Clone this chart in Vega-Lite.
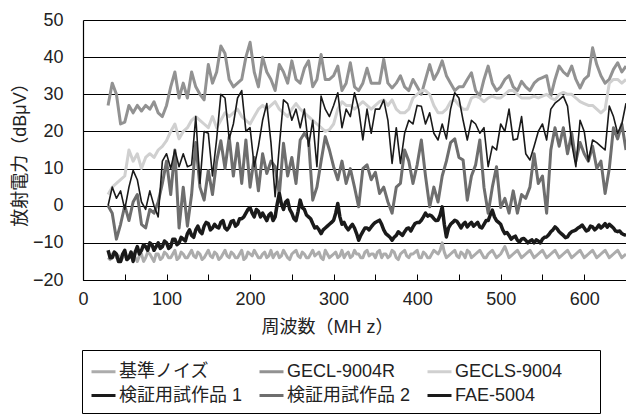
{
  "$schema": "https://vega.github.io/schema/vega-lite/v6.json",
  "width": 543,
  "height": 260,
  "autosize": {"type": "none"},
  "padding": {"left": 83, "top": 20, "right": 0, "bottom": 136},
  "background": "white",
  "config": {
    "view": {"stroke": null},
    "font": "Liberation Sans, Noto Sans CJK JP",
    "axis": {
      "labelFont": "Liberation Sans, Noto Sans CJK JP",
      "titleFont": "Liberation Sans, Noto Sans CJK JP",
      "labelColor": "#222222",
      "titleColor": "#222222",
      "labelFontSize": 18,
      "titleFontSize": 18,
      "titleFontWeight": "normal",
      "domainColor": "#000000",
      "domainWidth": 1.2,
      "tickColor": "#000000"
    }
  },
  "data": {
    "values": [
      {"f":30,"基準ノイズ":-14,"GECL-9004R":27,"GECLS-9004":3,"検証用試作品 1":0,"検証用試作品 2":0,"FAE-5004":-12},
      {"f":35,"基準ノイズ":-13,"GECL-9004R":33,"GECLS-9004":5,"検証用試作品 1":5,"検証用試作品 2":-2,"FAE-5004":-14},
      {"f":40,"基準ノイズ":-14,"GECL-9004R":30,"GECLS-9004":6,"検証用試作品 1":2,"検証用試作品 2":-9,"FAE-5004":-13},
      {"f":45,"基準ノイズ":-15,"GECL-9004R":22,"GECLS-9004":7,"検証用試作品 1":4,"検証用試作品 2":-5,"FAE-5004":-15},
      {"f":50,"基準ノイズ":-13,"GECL-9004R":22.5,"GECLS-9004":8,"検証用試作品 1":-1,"検証用試作品 2":0,"FAE-5004":-12},
      {"f":55,"基準ノイズ":-14,"GECL-9004R":27,"GECLS-9004":15,"検証用試作品 1":5,"検証用試作品 2":-4,"FAE-5004":-14},
      {"f":60,"基準ノイズ":-13,"GECL-9004R":25,"GECLS-9004":12,"検証用試作品 1":9.5,"検証用試作品 2":1,"FAE-5004":-15},
      {"f":65,"基準ノイズ":-15,"GECL-9004R":27,"GECLS-9004":14,"検証用試作品 1":7,"検証用試作品 2":3,"FAE-5004":-11},
      {"f":70,"基準ノイズ":-13,"GECL-9004R":25.5,"GECLS-9004":10,"検証用試作品 1":1,"検証用試作品 2":-5,"FAE-5004":-12},
      {"f":75,"基準ノイズ":-14,"GECL-9004R":27,"GECLS-9004":13,"検証用試作品 1":-1,"検証用試作品 2":-6,"FAE-5004":-11},
      {"f":80,"基準ノイズ":-13,"GECL-9004R":26,"GECLS-9004":14,"検証用試作品 1":4,"検証用試作品 2":-1,"FAE-5004":-10},
      {"f":85,"基準ノイズ":-15,"GECL-9004R":28,"GECLS-9004":13,"検証用試作品 1":0,"検証用試作品 2":-2,"FAE-5004":-12},
      {"f":90,"基準ノイズ":-13,"GECL-9004R":25,"GECLS-9004":15,"検証用試作品 1":-3,"検証用試作品 2":1,"FAE-5004":-10},
      {"f":95,"基準ノイズ":-14,"GECL-9004R":24,"GECLS-9004":16,"検証用試作品 1":12,"検証用試作品 2":6,"FAE-5004":-11},
      {"f":100,"基準ノイズ":-13,"GECL-9004R":27,"GECLS-9004":17.5,"検証用試作品 1":14,"検証用試作品 2":12,"FAE-5004":-10},
      {"f":105,"基準ノイズ":-14,"GECL-9004R":32,"GECLS-9004":20,"検証用試作品 1":10,"検証用試作品 2":3,"FAE-5004":-11},
      {"f":110,"基準ノイズ":-12,"GECL-9004R":36,"GECLS-9004":22,"検証用試作品 1":15,"検証用試作品 2":15,"FAE-5004":-9},
      {"f":115,"基準ノイズ":-14,"GECL-9004R":29,"GECLS-9004":18,"検証用試作品 1":10.5,"検証用試作品 2":-6,"FAE-5004":-10},
      {"f":120,"基準ノイズ":-13,"GECL-9004R":33,"GECLS-9004":20,"検証用試作品 1":14,"検証用試作品 2":5,"FAE-5004":-9},
      {"f":125,"基準ノイズ":-14,"GECL-9004R":29,"GECLS-9004":21,"検証用試作品 1":10.5,"検証用試作品 2":-5.5,"FAE-5004":-7.5},
      {"f":130,"基準ノイズ":-12,"GECL-9004R":36,"GECLS-9004":23,"検証用試作品 1":11,"検証用試作品 2":3,"FAE-5004":-8},
      {"f":135,"基準ノイズ":-14,"GECL-9004R":32,"GECLS-9004":24,"検証用試作品 1":24,"検証用試作品 2":17,"FAE-5004":-6.5},
      {"f":140,"基準ノイズ":-13,"GECL-9004R":30,"GECLS-9004":23,"検証用試作品 1":6,"検証用試作品 2":5,"FAE-5004":-7},
      {"f":145,"基準ノイズ":-14,"GECL-9004R":28.5,"GECLS-9004":22,"検証用試作品 1":20,"検証用試作品 2":1.5,"FAE-5004":-5.5},
      {"f":150,"基準ノイズ":-12,"GECL-9004R":38,"GECLS-9004":21,"検証用試作品 1":19.5,"検証用試作品 2":9.5,"FAE-5004":-4.8},
      {"f":155,"基準ノイズ":-14,"GECL-9004R":33,"GECLS-9004":24,"検証用試作品 1":8,"検証用試作品 2":3,"FAE-5004":-6},
      {"f":160,"基準ノイズ":-13,"GECL-9004R":36,"GECLS-9004":21,"検証用試作品 1":18,"検証用試作品 2":12,"FAE-5004":-5.7},
      {"f":165,"基準ノイズ":-14,"GECL-9004R":43,"GECLS-9004":23,"検証用試作品 1":30,"検証用試作品 2":17.5,"FAE-5004":-4.5},
      {"f":170,"基準ノイズ":-12,"GECL-9004R":41,"GECLS-9004":25,"検証用試作品 1":29,"検証用試作品 2":10,"FAE-5004":-6},
      {"f":175,"基準ノイズ":-14,"GECL-9004R":34,"GECLS-9004":24,"検証用試作品 1":18,"検証用試作品 2":18.5,"FAE-5004":-5.7},
      {"f":180,"基準ノイズ":-13,"GECL-9004R":32,"GECLS-9004":25,"検証用試作品 1":22,"検証用試作品 2":8,"FAE-5004":-4},
      {"f":185,"基準ノイズ":-14,"GECL-9004R":33,"GECLS-9004":26,"検証用試作品 1":29,"検証用試作品 2":16.8,"FAE-5004":-5},
      {"f":190,"基準ノイズ":-12,"GECL-9004R":34,"GECLS-9004":24,"検証用試作品 1":31,"検証用試作品 2":6,"FAE-5004":-3.5},
      {"f":195,"基準ノイズ":-14,"GECL-9004R":40,"GECLS-9004":23,"検証用試作品 1":20,"検証用試作品 2":17.7,"FAE-5004":-2},
      {"f":200,"基準ノイズ":-13,"GECL-9004R":44,"GECLS-9004":22,"検証用試作品 1":21,"検証用試作品 2":5,"FAE-5004":-0.5},
      {"f":205,"基準ノイズ":-12,"GECL-9004R":36,"GECLS-9004":24,"検証用試作品 1":10.5,"検証用試作品 2":13,"FAE-5004":-3},
      {"f":210,"基準ノイズ":-14,"GECL-9004R":32,"GECLS-9004":26,"検証用試作品 1":16,"検証用試作品 2":4,"FAE-5004":-1.5},
      {"f":215,"基準ノイズ":-13,"GECL-9004R":40,"GECLS-9004":27,"検証用試作品 1":23,"検証用試作品 2":14,"FAE-5004":-2},
      {"f":220,"基準ノイズ":-14,"GECL-9004R":36,"GECLS-9004":26,"検証用試作品 1":27.5,"検証用試作品 2":8.7,"FAE-5004":-4},
      {"f":225,"基準ノイズ":-12,"GECL-9004R":34,"GECLS-9004":27,"検証用試作品 1":17,"検証用試作品 2":12,"FAE-5004":-2},
      {"f":230,"基準ノイズ":-13,"GECL-9004R":31,"GECLS-9004":28,"検証用試作品 1":2.4,"検証用試作品 2":10.5,"FAE-5004":-3},
      {"f":235,"基準ノイズ":-14,"GECL-9004R":38,"GECLS-9004":26,"検証用試作品 1":16,"検証用試作品 2":3,"FAE-5004":3.3},
      {"f":240,"基準ノイズ":-12,"GECL-9004R":36,"GECLS-9004":25,"検証用試作品 1":28.5,"検証用試作品 2":16.8,"FAE-5004":-1},
      {"f":245,"基準ノイズ":-14,"GECL-9004R":33,"GECLS-9004":24,"検証用試作品 1":27.5,"検証用試作品 2":8,"FAE-5004":1.5},
      {"f":250,"基準ノイズ":-13,"GECL-9004R":39,"GECLS-9004":26,"検証用試作品 1":23,"検証用試作品 2":13,"FAE-5004":-2},
      {"f":255,"基準ノイズ":-12,"GECL-9004R":34,"GECLS-9004":27.5,"検証用試作品 1":26,"検証用試作品 2":6,"FAE-5004":-4},
      {"f":260,"基準ノイズ":-14,"GECL-9004R":33,"GECLS-9004":26,"検証用試作品 1":21,"検証用試作品 2":17.7,"FAE-5004":1.5},
      {"f":265,"基準ノイズ":-13,"GECL-9004R":37,"GECLS-9004":25,"検証用試作品 1":26,"検証用試作品 2":19.5,"FAE-5004":-1},
      {"f":270,"基準ノイズ":-14,"GECL-9004R":39,"GECLS-9004":24,"検証用試作品 1":16,"検証用試作品 2":17.7,"FAE-5004":-3},
      {"f":275,"基準ノイズ":-12,"GECL-9004R":32,"GECLS-9004":23,"検証用試作品 1":23,"検証用試作品 2":1.5,"FAE-5004":-4.8},
      {"f":280,"基準ノイズ":-13,"GECL-9004R":34,"GECLS-9004":22,"検証用試作品 1":10.5,"検証用試作品 2":5,"FAE-5004":-5.7},
      {"f":285,"基準ノイズ":-14,"GECL-9004R":40.7,"GECLS-9004":21,"検証用試作品 1":29.5,"検証用試作品 2":12,"FAE-5004":-7.5},
      {"f":290,"基準ノイズ":-12,"GECL-9004R":34,"GECLS-9004":20,"検証用試作品 1":26,"検証用試作品 2":18.6,"FAE-5004":-6},
      {"f":295,"基準ノイズ":-14,"GECL-9004R":34,"GECLS-9004":20.5,"検証用試作品 1":24,"検証用試作品 2":15,"FAE-5004":-5},
      {"f":300,"基準ノイズ":-13,"GECL-9004R":35,"GECLS-9004":22,"検証用試作品 1":27,"検証用試作品 2":10.5,"FAE-5004":-3.9},
      {"f":305,"基準ノイズ":-14,"GECL-9004R":37.6,"GECLS-9004":26,"検証用試作品 1":30.4,"検証用試作品 2":7,"FAE-5004":0.6},
      {"f":310,"基準ノイズ":-12,"GECL-9004R":31,"GECLS-9004":28,"検証用試作品 1":21,"検証用試作品 2":12,"FAE-5004":-5},
      {"f":315,"基準ノイズ":-13,"GECL-9004R":33,"GECLS-9004":27,"検証用試作品 1":26,"検証用試作品 2":6,"FAE-5004":-5.7},
      {"f":320,"基準ノイズ":-14,"GECL-9004R":38.5,"GECLS-9004":27,"検証用試作品 1":24,"検証用試作品 2":10,"FAE-5004":-5.7},
      {"f":325,"基準ノイズ":-12,"GECL-9004R":32,"GECLS-9004":26,"検証用試作品 1":30.4,"検証用試作品 2":5,"FAE-5004":-6},
      {"f":330,"基準ノイズ":-13,"GECL-9004R":31,"GECLS-9004":27,"検証用試作品 1":26,"検証用試作品 2":-0.3,"FAE-5004":-9.3},
      {"f":335,"基準ノイズ":-14,"GECL-9004R":33,"GECLS-9004":28,"検証用試作品 1":17.7,"検証用試作品 2":10,"FAE-5004":-7},
      {"f":340,"基準ノイズ":-12,"GECL-9004R":37,"GECLS-9004":27,"検証用試作品 1":26,"検証用試作品 2":11,"FAE-5004":-6},
      {"f":345,"基準ノイズ":-13,"GECL-9004R":33,"GECLS-9004":26,"検証用試作品 1":19.5,"検証用試作品 2":7,"FAE-5004":-5.7},
      {"f":350,"基準ノイズ":-14,"GECL-9004R":33,"GECLS-9004":27,"検証用試作品 1":26,"検証用試作品 2":9,"FAE-5004":-4.5},
      {"f":355,"基準ノイズ":-12,"GECL-9004R":33,"GECLS-9004":28,"検証用試作品 1":26,"検証用試作品 2":3.3,"FAE-5004":-3.9},
      {"f":360,"基準ノイズ":-13,"GECL-9004R":39.4,"GECLS-9004":28.5,"検証用試作品 1":28.5,"検証用試作品 2":5,"FAE-5004":-6.5},
      {"f":365,"基準ノイズ":-14,"GECL-9004R":33,"GECLS-9004":27,"検証用試作品 1":23,"検証用試作品 2":1,"FAE-5004":-8},
      {"f":370,"基準ノイズ":-12,"GECL-9004R":31.7,"GECLS-9004":28.5,"検証用試作品 1":11.4,"検証用試作品 2":-2,"FAE-5004":-9.3},
      {"f":375,"基準ノイズ":-14,"GECL-9004R":33,"GECLS-9004":26,"検証用試作品 1":21,"検証用試作品 2":5,"FAE-5004":-8},
      {"f":380,"基準ノイズ":-13,"GECL-9004R":35,"GECLS-9004":25,"検証用試作品 1":11.4,"検証用試作品 2":6,"FAE-5004":-7.5},
      {"f":385,"基準ノイズ":-12,"GECL-9004R":32,"GECLS-9004":25,"検証用試作品 1":19.5,"検証用試作品 2":15,"FAE-5004":-7},
      {"f":390,"基準ノイズ":-14,"GECL-9004R":31,"GECLS-9004":26,"検証用試作品 1":23,"検証用試作品 2":12,"FAE-5004":-6},
      {"f":395,"基準ノイズ":-13,"GECL-9004R":34,"GECLS-9004":29,"検証用試作品 1":22,"検証用試作品 2":6,"FAE-5004":-5.7},
      {"f":400,"基準ノイズ":-12,"GECL-9004R":32,"GECLS-9004":30,"検証用試作品 1":27,"検証用試作品 2":11,"FAE-5004":-4.5},
      {"f":405,"基準ノイズ":-14,"GECL-9004R":30,"GECLS-9004":31,"検証用試作品 1":26.8,"検証用試作品 2":17.7,"FAE-5004":-3.9},
      {"f":410,"基準ノイズ":-13,"GECL-9004R":34,"GECLS-9004":31,"検証用試作品 1":22,"検証用試作品 2":8,"FAE-5004":-2},
      {"f":415,"基準ノイズ":-14,"GECL-9004R":38,"GECLS-9004":30,"検証用試作品 1":25,"検証用試作品 2":-0.3,"FAE-5004":-2.5},
      {"f":420,"基準ノイズ":-12,"GECL-9004R":34,"GECLS-9004":27,"検証用試作品 1":19.5,"検証用試作品 2":5,"FAE-5004":-3.5},
      {"f":425,"基準ノイズ":-13,"GECL-9004R":36,"GECLS-9004":25,"検証用試作品 1":17.7,"検証用試作品 2":1,"FAE-5004":-3.9},
      {"f":430,"基準ノイズ":-10,"GECL-9004R":39,"GECLS-9004":25,"検証用試作品 1":22,"検証用試作品 2":8,"FAE-5004":-0.3},
      {"f":435,"基準ノイズ":-14,"GECL-9004R":35,"GECLS-9004":26,"検証用試作品 1":18,"検証用試作品 2":12,"FAE-5004":-8.4},
      {"f":440,"基準ノイズ":-13,"GECL-9004R":33,"GECLS-9004":28,"検証用試作品 1":26,"検証用試作品 2":17,"FAE-5004":-5},
      {"f":445,"基準ノイズ":-12,"GECL-9004R":31,"GECLS-9004":28.5,"検証用試作品 1":30.4,"検証用試作品 2":18,"FAE-5004":-3.9},
      {"f":450,"基準ノイズ":-14,"GECL-9004R":32,"GECLS-9004":27,"検証用試作品 1":29,"検証用試作品 2":13,"FAE-5004":-5},
      {"f":455,"基準ノイズ":-13,"GECL-9004R":32,"GECLS-9004":26,"検証用試作品 1":23,"検証用試作品 2":12.3,"FAE-5004":-5},
      {"f":460,"基準ノイズ":-12,"GECL-9004R":34,"GECLS-9004":26,"検証用試作品 1":17.7,"検証用試作品 2":1.5,"FAE-5004":-5.7},
      {"f":465,"基準ノイズ":-14,"GECL-9004R":35.8,"GECLS-9004":29,"検証用試作品 1":23,"検証用試作品 2":8,"FAE-5004":-4.5},
      {"f":470,"基準ノイズ":-13,"GECL-9004R":31,"GECLS-9004":29.5,"検証用試作品 1":22,"検証用試作品 2":11,"FAE-5004":-5},
      {"f":475,"基準ノイズ":-12,"GECL-9004R":29.5,"GECLS-9004":29,"検証用試作品 1":19.5,"検証用試作品 2":17.7,"FAE-5004":-5.7},
      {"f":480,"基準ノイズ":-14,"GECL-9004R":34,"GECLS-9004":28,"検証用試作品 1":21,"検証用試作品 2":5,"FAE-5004":-5},
      {"f":485,"基準ノイズ":-13,"GECL-9004R":37.6,"GECLS-9004":29,"検証用試作品 1":10.5,"検証用試作品 2":-2,"FAE-5004":-4},
      {"f":490,"基準ノイズ":-12,"GECL-9004R":33,"GECLS-9004":29.5,"検証用試作品 1":16,"検証用試作品 2":5,"FAE-5004":-1.2},
      {"f":495,"基準ノイズ":-14,"GECL-9004R":31,"GECLS-9004":29,"検証用試作品 1":15,"検証用試作品 2":10.5,"FAE-5004":-4},
      {"f":500,"基準ノイズ":-13,"GECL-9004R":32,"GECLS-9004":29,"検証用試作品 1":22,"検証用試作品 2":-0.5,"FAE-5004":-5},
      {"f":505,"基準ノイズ":-11,"GECL-9004R":34,"GECLS-9004":30,"検証用試作品 1":20,"検証用試作品 2":2,"FAE-5004":-7.5},
      {"f":510,"基準ノイズ":-14,"GECL-9004R":35,"GECLS-9004":31,"検証用試作品 1":26,"検証用試作品 2":-2,"FAE-5004":-8},
      {"f":515,"基準ノイズ":-13,"GECL-9004R":32,"GECLS-9004":31,"検証用試作品 1":17.7,"検証用試作品 2":4,"FAE-5004":-8.5},
      {"f":520,"基準ノイズ":-12,"GECL-9004R":31,"GECLS-9004":30,"検証用試作品 1":18,"検証用試作品 2":-2,"FAE-5004":-9.3},
      {"f":525,"基準ノイズ":-14,"GECL-9004R":33.5,"GECLS-9004":29,"検証用試作品 1":24,"検証用試作品 2":3,"FAE-5004":-9},
      {"f":530,"基準ノイズ":-13,"GECL-9004R":32,"GECLS-9004":29,"検証用試作品 1":14,"検証用試作品 2":2,"FAE-5004":-9.3},
      {"f":535,"基準ノイズ":-12,"GECL-9004R":31,"GECLS-9004":29,"検証用試作品 1":12.3,"検証用試作品 2":5,"FAE-5004":-9.5},
      {"f":540,"基準ノイズ":-14,"GECL-9004R":33,"GECLS-9004":29.5,"検証用試作品 1":16,"検証用試作品 2":14,"FAE-5004":-10},
      {"f":545,"基準ノイズ":-13,"GECL-9004R":34,"GECLS-9004":29,"検証用試作品 1":20,"検証用試作品 2":6,"FAE-5004":-9.5},
      {"f":550,"基準ノイズ":-12,"GECL-9004R":34.5,"GECLS-9004":29.5,"検証用試作品 1":22,"検証用試作品 2":8,"FAE-5004":-9},
      {"f":555,"基準ノイズ":-14,"GECL-9004R":35,"GECLS-9004":30,"検証用試作品 1":17.7,"検証用試作品 2":-2,"FAE-5004":-8.4},
      {"f":560,"基準ノイズ":-13,"GECL-9004R":29.5,"GECLS-9004":29,"検証用試作品 1":26,"検証用試作品 2":15,"FAE-5004":-7},
      {"f":565,"基準ノイズ":-12,"GECL-9004R":34,"GECLS-9004":28.5,"検証用試作品 1":27.6,"検証用試作品 2":21,"FAE-5004":-5.7},
      {"f":570,"基準ノイズ":-14,"GECL-9004R":37.6,"GECLS-9004":30,"検証用試作品 1":28.5,"検証用試作品 2":16,"FAE-5004":-7},
      {"f":575,"基準ノイズ":-13,"GECL-9004R":36,"GECLS-9004":30.5,"検証用試作品 1":29.5,"検証用試作品 2":21,"FAE-5004":-8},
      {"f":580,"基準ノイズ":-12,"GECL-9004R":35,"GECLS-9004":30,"検証用試作品 1":26.8,"検証用試作品 2":14,"FAE-5004":-8.4},
      {"f":585,"基準ノイズ":-14,"GECL-9004R":37.6,"GECLS-9004":30,"検証用試作品 1":16.8,"検証用試作品 2":19.5,"FAE-5004":-7},
      {"f":590,"基準ノイズ":-13,"GECL-9004R":34,"GECLS-9004":29,"検証用試作品 1":10.5,"検証用試作品 2":12,"FAE-5004":-6.5},
      {"f":595,"基準ノイズ":-12,"GECL-9004R":31.7,"GECLS-9004":28,"検証用試作品 1":23,"検証用試作品 2":17,"FAE-5004":-5.7},
      {"f":600,"基準ノイズ":-14,"GECL-9004R":34,"GECLS-9004":27.5,"検証用試作品 1":20,"検証用試作品 2":14,"FAE-5004":-6},
      {"f":605,"基準ノイズ":-13,"GECL-9004R":35,"GECLS-9004":27,"検証用試作品 1":12,"検証用試作品 2":12,"FAE-5004":-6.5},
      {"f":610,"基準ノイズ":-12,"GECL-9004R":42.5,"GECLS-9004":27,"検証用試作品 1":17.7,"検証用試作品 2":16,"FAE-5004":-5.7},
      {"f":615,"基準ノイズ":-14,"GECL-9004R":38,"GECLS-9004":26,"検証用試作品 1":17,"検証用試作品 2":10,"FAE-5004":-6},
      {"f":620,"基準ノイズ":-13,"GECL-9004R":35,"GECLS-9004":25,"検証用試作品 1":16,"検証用試作品 2":12,"FAE-5004":-6},
      {"f":625,"基準ノイズ":-12,"GECL-9004R":33,"GECLS-9004":26,"検証用試作品 1":15,"検証用試作品 2":3.3,"FAE-5004":-4.8},
      {"f":630,"基準ノイズ":-14,"GECL-9004R":34,"GECLS-9004":33,"検証用試作品 1":26.8,"検証用試作品 2":10,"FAE-5004":-5},
      {"f":635,"基準ノイズ":-13,"GECL-9004R":36.7,"GECLS-9004":34,"検証用試作品 1":24,"検証用試作品 2":21,"FAE-5004":-6},
      {"f":640,"基準ノイズ":-12,"GECL-9004R":38.5,"GECLS-9004":34,"検証用試作品 1":19.5,"検証用試作品 2":18,"FAE-5004":-7},
      {"f":645,"基準ノイズ":-14,"GECL-9004R":36,"GECLS-9004":33,"検証用試作品 1":22,"検証用試作品 2":22,"FAE-5004":-7.5},
      {"f":650,"基準ノイズ":-13,"GECL-9004R":37.6,"GECLS-9004":34,"検証用試作品 1":27.6,"検証用試作品 2":15,"FAE-5004":-8},
      {"f":32.5,"基準ノイズ":-14.5,"FAE-5004":-14},
      {"f":37.5,"基準ノイズ":-12.5,"FAE-5004":-12.5},
      {"f":42.5,"基準ノイズ":-13.5,"FAE-5004":-15},
      {"f":47.5,"基準ノイズ":-14,"FAE-5004":-13},
      {"f":52.5,"基準ノイズ":-14.5,"FAE-5004":-14.5},
      {"f":57.5,"基準ノイズ":-12.5,"FAE-5004":-12.5},
      {"f":62.5,"基準ノイズ":-14,"FAE-5004":-12.5},
      {"f":67.5,"基準ノイズ":-13.5,"FAE-5004":-13},
      {"f":72.5,"基準ノイズ":-15,"FAE-5004":-10.5},
      {"f":77.5,"基準ノイズ":-12.5,"FAE-5004":-12},
      {"f":82.5,"基準ノイズ":-14,"FAE-5004":-10.5},
      {"f":87.5,"基準ノイズ":-13,"FAE-5004":-11},
      {"f":92.5,"基準ノイズ":-14.5,"FAE-5004":-11.5},
      {"f":97.5,"基準ノイズ":-12.5,"FAE-5004":-9.5},
      {"f":102.5,"基準ノイズ":-14,"FAE-5004":-11.5},
      {"f":107.5,"基準ノイズ":-13,"FAE-5004":-9},
      {"f":112.5,"基準ノイズ":-14.5,"FAE-5004":-10.5},
      {"f":117.5,"基準ノイズ":-12.5,"FAE-5004":-8.5},
      {"f":122.5,"基準ノイズ":-14,"FAE-5004":-9.5},
      {"f":127.5,"基準ノイズ":-13,"FAE-5004":-6.5},
      {"f":132.5,"基準ノイズ":-13.5,"FAE-5004":-8.5},
      {"f":137.5,"基準ノイズ":-12.5,"FAE-5004":-5.5},
      {"f":142.5,"基準ノイズ":-14.5,"FAE-5004":-7.5},
      {"f":147.5,"基準ノイズ":-13,"FAE-5004":-4.5},
      {"f":152.5,"基準ノイズ":-13.5,"FAE-5004":-6.5},
      {"f":157.5,"基準ノイズ":-12.5,"FAE-5004":-5},
      {"f":162.5,"基準ノイズ":-14.5,"FAE-5004":-6},
      {"f":167.5,"基準ノイズ":-13,"FAE-5004":-4},
      {"f":172.5,"基準ノイズ":-13.5,"FAE-5004":-6.5},
      {"f":177.5,"基準ノイズ":-12.5,"FAE-5004":-4.2},
      {"f":182.5,"基準ノイズ":-14,"FAE-5004":-5.5},
      {"f":187.5,"基準ノイズ":-13,"FAE-5004":-3.5},
      {"f":192.5,"基準ノイズ":-14.5,"FAE-5004":-3},
      {"f":197.5,"基準ノイズ":-12.5,"FAE-5004":-1},
      {"f":202.5,"基準ノイズ":-13.5,"FAE-5004":-2},
      {"f":207.5,"基準ノイズ":-13,"FAE-5004":-1},
      {"f":212.5,"基準ノイズ":-14,"FAE-5004":-3},
      {"f":217.5,"基準ノイズ":-12.5,"FAE-5004":-3},
      {"f":222.5,"基準ノイズ":-13.5,"FAE-5004":-2.5},
      {"f":227.5,"基準ノイズ":-14,"FAE-5004":-4},
      {"f":232.5,"基準ノイズ":-12.5,"FAE-5004":0.5},
      {"f":237.5,"基準ノイズ":-13.5,"FAE-5004":0.5},
      {"f":242.5,"基準ノイズ":-13,"FAE-5004":1},
      {"f":247.5,"基準ノイズ":-14.5,"FAE-5004":-1},
      {"f":252.5,"基準ノイズ":-12.5,"FAE-5004":-3.5},
      {"f":257.5,"基準ノイズ":-13.5,"FAE-5004":-1.5},
      {"f":262.5,"基準ノイズ":-12.5,"FAE-5004":-0.5},
      {"f":267.5,"基準ノイズ":-14,"FAE-5004":-2.5},
      {"f":272.5,"基準ノイズ":-13,"FAE-5004":-3.5},
      {"f":277.5,"基準ノイズ":-13.5,"FAE-5004":-6},
      {"f":282.5,"基準ノイズ":-12.5,"FAE-5004":-6.5},
      {"f":287.5,"基準ノイズ":-14.5,"FAE-5004":-6.5},
      {"f":292.5,"基準ノイズ":-13,"FAE-5004":-5.5},
      {"f":297.5,"基準ノイズ":-13.5,"FAE-5004":-4.5},
      {"f":302.5,"基準ノイズ":-12.5,"FAE-5004":-2},
      {"f":307.5,"基準ノイズ":-13.5,"FAE-5004":-3},
      {"f":312.5,"基準ノイズ":-14,"FAE-5004":-4.5},
      {"f":317.5,"基準ノイズ":-12.5,"FAE-5004":-6.5},
      {"f":322.5,"基準ノイズ":-13.5,"FAE-5004":-5},
      {"f":327.5,"基準ノイズ":-13,"FAE-5004":-7.5},
      {"f":332.5,"基準ノイズ":-14,"FAE-5004":-8},
      {"f":337.5,"基準ノイズ":-12.5,"FAE-5004":-6},
      {"f":342.5,"基準ノイズ":-13.5,"FAE-5004":-6.5},
      {"f":347.5,"基準ノイズ":-13,"FAE-5004":-5},
      {"f":352.5,"基準ノイズ":-12.5,"FAE-5004":-4.2},
      {"f":357.5,"基準ノイズ":-14,"FAE-5004":-5},
      {"f":362.5,"基準ノイズ":-13,"FAE-5004":-7.5},
      {"f":367.5,"基準ノイズ":-13.5,"FAE-5004":-8.5},
      {"f":372.5,"基準ノイズ":-12.5,"FAE-5004":-8.5},
      {"f":377.5,"基準ノイズ":-14.5,"FAE-5004":-7},
      {"f":382.5,"基準ノイズ":-12.5,"FAE-5004":-8},
      {"f":387.5,"基準ノイズ":-13.5,"FAE-5004":-6.2},
      {"f":392.5,"基準ノイズ":-13,"FAE-5004":-6.8},
      {"f":397.5,"基準ノイズ":-12.5,"FAE-5004":-4.8},
      {"f":402.5,"基準ノイズ":-14,"FAE-5004":-4.5},
      {"f":407.5,"基準ノイズ":-12.5,"FAE-5004":-3},
      {"f":412.5,"基準ノイズ":-14,"FAE-5004":-2.8},
      {"f":417.5,"基準ノイズ":-13,"FAE-5004":-2.8},
      {"f":422.5,"基準ノイズ":-12.5,"FAE-5004":-4},
      {"f":427.5,"基準ノイズ":-12,"FAE-5004":-2.5},
      {"f":432.5,"基準ノイズ":-12.5,"FAE-5004":-5},
      {"f":437.5,"基準ノイズ":-13.5,"FAE-5004":-6},
      {"f":442.5,"基準ノイズ":-12.5,"FAE-5004":-4.5},
      {"f":447.5,"基準ノイズ":-13.5,"FAE-5004":-4.2},
      {"f":452.5,"基準ノイズ":-12.5,"FAE-5004":-6},
      {"f":457.5,"基準ノイズ":-14,"FAE-5004":-4.5},
      {"f":462.5,"基準ノイズ":-12.5,"FAE-5004":-5},
      {"f":467.5,"基準ノイズ":-13.5,"FAE-5004":-5.5},
      {"f":472.5,"基準ノイズ":-12.5,"FAE-5004":-4.5},
      {"f":477.5,"基準ノイズ":-13,"FAE-5004":-6},
      {"f":482.5,"基準ノイズ":-14,"FAE-5004":-4},
      {"f":487.5,"基準ノイズ":-12.5,"FAE-5004":-2.5},
      {"f":492.5,"基準ノイズ":-13,"FAE-5004":-3},
      {"f":497.5,"基準ノイズ":-13.5,"FAE-5004":-4.5},
      {"f":502.5,"基準ノイズ":-12,"FAE-5004":-6.5},
      {"f":507.5,"基準ノイズ":-12.5,"FAE-5004":-7.2},
      {"f":512.5,"基準ノイズ":-13.5,"FAE-5004":-9},
      {"f":517.5,"基準ノイズ":-12.5,"FAE-5004":-8.2},
      {"f":522.5,"基準ノイズ":-13,"FAE-5004":-9.8},
      {"f":527.5,"基準ノイズ":-13.5,"FAE-5004":-8.8},
      {"f":532.5,"基準ノイズ":-12.5,"FAE-5004":-10},
      {"f":537.5,"基準ノイズ":-13,"FAE-5004":-9.2},
      {"f":542.5,"基準ノイズ":-13.5,"FAE-5004":-9.2},
      {"f":547.5,"基準ノイズ":-12.5,"FAE-5004":-10},
      {"f":552.5,"基準ノイズ":-13,"FAE-5004":-8.5},
      {"f":557.5,"基準ノイズ":-13.5,"FAE-5004":-7.8},
      {"f":562.5,"基準ノイズ":-12.5,"FAE-5004":-6.5},
      {"f":567.5,"基準ノイズ":-13,"FAE-5004":-6.2},
      {"f":572.5,"基準ノイズ":-13.5,"FAE-5004":-7.5},
      {"f":577.5,"基準ノイズ":-12.5,"FAE-5004":-8.6},
      {"f":582.5,"基準ノイズ":-13,"FAE-5004":-7.5},
      {"f":587.5,"基準ノイズ":-13.5,"FAE-5004":-6.8},
      {"f":592.5,"基準ノイズ":-12.5,"FAE-5004":-6},
      {"f":597.5,"基準ノイズ":-13,"FAE-5004":-5.2},
      {"f":602.5,"基準ノイズ":-13.5,"FAE-5004":-6.8},
      {"f":607.5,"基準ノイズ":-12.5,"FAE-5004":-5.5},
      {"f":612.5,"基準ノイズ":-13,"FAE-5004":-6.5},
      {"f":617.5,"基準ノイズ":-13.5,"FAE-5004":-5.2},
      {"f":622.5,"基準ノイズ":-12.5,"FAE-5004":-5.5},
      {"f":627.5,"基準ノイズ":-13,"FAE-5004":-5.8},
      {"f":632.5,"基準ノイズ":-13.5,"FAE-5004":-5.5},
      {"f":637.5,"基準ノイズ":-12.5,"FAE-5004":-6.8},
      {"f":642.5,"基準ノイズ":-13,"FAE-5004":-6.8},
      {"f":647.5,"基準ノイズ":-13.5,"FAE-5004":-7.8}
    ]
  },
  "transform": [
    {"fold": ["基準ノイズ", "GECL-9004R", "GECLS-9004", "検証用試作品 1", "検証用試作品 2", "FAE-5004"], "as": ["series", "value"]},
    {"filter": "isValid(datum.value)"}
  ],
  "encoding": {
    "x": {
      "field": "f", "type": "quantitative",
      "scale": {"domain": [0, 650], "nice": false},
      "axis": {
        "title": "周波数（MH z）",
        "values": [0, 50, 100, 150, 200, 250, 300, 350, 400, 450, 500, 550, 600],
        "labelExpr": "datum.value % 100 === 0 ? datum.label : ''",
        "labelFlush": false,
        "grid": false,
        "tickSize": -6,
        "tickWidth": 1,
        "labelPadding": 16,
        "titleX": 244,
        "titleY": 38
      }
    },
    "y": {
      "field": "value", "type": "quantitative",
      "scale": {"domain": [-20, 50], "nice": false},
      "axis": {
        "title": "放射電力（dBμV）",
        "values": [-20, -10, 0, 10, 20, 30, 40, 50],
        "labelFlush": false,
        "grid": true,
        "gridColor": "#000000",
        "gridWidth": 1,
        "ticks": false,
        "tickSize": 0,
        "labelPadding": 20,
        "titlePadding": 3
      }
    },
    "color": {
      "field": "series", "type": "nominal",
      "scale": {
        "domain": ["基準ノイズ", "GECL-9004R", "GECLS-9004", "検証用試作品 1", "検証用試作品 2", "FAE-5004"],
        "range": ["#acacac", "#929292", "#d0d0d0", "#1a1a1a", "#6e6e6e", "#1a1a1a"]
      },
      "legend": {
        "title": "　",
        "titleOrient": "right",
        "titleFontSize": 18,
        "titlePadding": 30,
        "orient": "none",
        "legendX": -1,
        "legendY": 330,
        "direction": "horizontal",
        "columns": 3,
        "gridAlign": "all",
        "columnPadding": 10,
        "rowPadding": 1,
        "symbolType": "stroke",
        "symbolSize": 576,
        "symbolStrokeWidth": 3,
        "labelFontSize": 18,
        "labelColor": "#222222",
        "labelFont": "Liberation Sans, Noto Sans CJK JP",
        "labelOffset": 2,
        "labelLimit": 200,
        "strokeColor": "#000000",
        "padding": 8
      }
    }
  },
  "layer": [
    {"transform": [{"filter": "datum.series === '基準ノイズ'"}], "mark": {"type": "line", "strokeWidth": 3, "strokeJoin": "round"}},
    {"transform": [{"filter": "datum.series === 'GECL-9004R'"}], "mark": {"type": "line", "strokeWidth": 3, "strokeJoin": "round"}},
    {"transform": [{"filter": "datum.series === 'GECLS-9004'"}], "mark": {"type": "line", "strokeWidth": 3, "strokeJoin": "round"}},
    {"transform": [{"filter": "datum.series === '検証用試作品 2'"}], "mark": {"type": "line", "strokeWidth": 3, "strokeJoin": "round"}},
    {"transform": [{"filter": "datum.series === '検証用試作品 1'"}], "mark": {"type": "line", "strokeWidth": 1.6, "strokeJoin": "round"}},
    {"transform": [{"filter": "datum.series === 'FAE-5004'"}], "mark": {"type": "line", "strokeWidth": 3.5, "strokeJoin": "round"}}
  ]
}
